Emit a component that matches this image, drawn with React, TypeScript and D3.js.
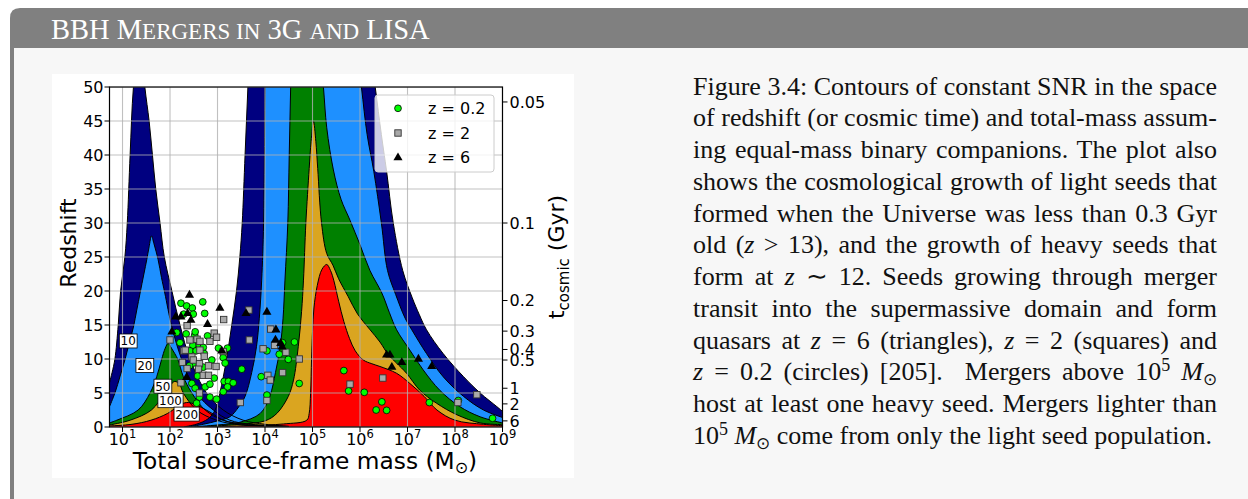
import React, { useEffect, useRef } from 'react';
import * as d3 from 'd3';

type P = [number, number]; // [log10 total mass, redshift]

// ---------- axes ----------
const redshiftTicks = [0, 5, 10, 15, 20, 25, 30, 35, 40, 45, 50];
const massDecades = [1, 2, 3, 4, 5, 6, 7, 8, 9];
const tCosmicLabels = ['0.05', '0.1', '0.2', '0.3', '0.4', '0.5', '1', '2', '6'];
const tCosmicRedshift = [47.8, 30.0, 18.6, 14.1, 11.4, 9.85, 5.7, 3.4, 0.9];

// ---------- SNR contour levels ----------
const snrLevels = ['10', '20', '50', '100', '200'];
const levelColors = ['#000080', '#1e90ff', '#008000', '#daa520', '#ff0000'];
const levelLabelLogM = [1.12, 1.47, 1.85, 2.01, 2.35];
const levelLabelZ = [12.65, 9.05, 6.0, 3.87, 1.9];

// 3G detector contours (upper boundary, left to right)
const g3Snr10: P[] = [[0.726, 6.5], [0.78, 8], [0.84, 10], [0.91, 15], [0.96, 20], [1.05, 25], [1.1, 30], [1.16, 40], [1.23, 50], [1.36, 58], [1.47, 50], [1.56, 45], [1.63, 40], [1.7, 35], [1.79, 30], [1.88, 25], [2.04, 20], [2.21, 15], [2.42, 10], [2.77, 5], [3.12, 2.5], [3.54, 1.0], [4.0, 0.4], [4.5, 0.1]];
const g3Snr20: P[] = [[0.726, 3.0], [0.84, 5], [0.95, 7.5], [1.05, 9.85], [1.14, 12.3], [1.23, 14.7], [1.3, 17.2], [1.37, 19.7], [1.45, 22.5], [1.51, 24.6], [1.56, 26.5], [1.61, 28.1], [1.66, 27], [1.75, 24.6], [1.82, 22], [1.89, 19.7], [2.04, 14.7], [2.25, 9.85], [2.56, 5], [2.91, 2.5], [3.26, 1.0], [3.7, 0.4], [4.5, 0.08]];
const g3Snr50: P[] = [[0.726, 0.6], [0.88, 1.0], [1.33, 2.5], [1.58, 5], [1.72, 7.4], [1.82, 9.85], [1.9, 11.6], [1.96, 12.3], [2.03, 11.6], [2.1, 10.8], [2.17, 9.85], [2.28, 7.4], [2.46, 5], [2.74, 2.5], [3.12, 1.0], [3.6, 0.4], [4.5, 0.06]];
const g3Snr100: P[] = [[0.726, 0.3], [1.16, 1.0], [1.61, 2.5], [1.89, 5], [2.0, 6.1], [2.1, 6.7], [2.2, 6.3], [2.28, 5], [2.56, 2.5], [2.98, 1.0], [3.5, 0.3], [4.5, 0.04]];
const g3Snr200: P[] = [[0.726, 0.15], [1.2, 0.4], [1.6, 1.0], [1.95, 2.0], [2.2, 3.2], [2.35, 3.6], [2.5, 3.4], [2.84, 2.2], [3.12, 1.0], [3.5, 0.4], [4.0, 0.15], [4.5, 0.03]];

// LISA contours (upper boundary, left to right)
const lisaSnr10: P[] = [[2.3, 0.03], [2.55, 0.4], [2.8, 1.2], [2.95, 2.5], [3.05, 5], [3.19, 10], [3.3, 15], [3.4, 20], [3.47, 25], [3.52, 30], [3.58, 40], [3.64, 50], [3.7, 60], [4.9, 66], [6.13, 60], [6.32, 50], [6.45, 43], [6.56, 37.6], [6.7, 30], [6.9, 23], [7.1, 19], [7.25, 16.5], [7.4, 14.3], [7.75, 10.8], [8.18, 7.4], [8.53, 5.0], [8.88, 3.0], [9.0, 2.3]];
const lisaSnr20: P[] = [[2.4, 0.02], [2.7, 0.4], [3.0, 0.9], [3.26, 1.5], [3.45, 3.0], [3.58, 4.5], [3.72, 8], [3.82, 11.8], [3.88, 16], [3.93, 21.6], [3.97, 30], [4.0, 50], [4.02, 60], [5.0, 64], [5.86, 60], [6.03, 50], [6.15, 43], [6.29, 37.6], [6.45, 30], [6.58, 23], [6.75, 19.5], [6.95, 16], [7.09, 14.3], [7.4, 10.8], [7.75, 7.4], [8.18, 4.5], [8.6, 2.5], [9.0, 1.4]];
const lisaSnr50: P[] = [[2.5, 0.02], [3.0, 0.3], [3.47, 0.7], [3.9, 2.0], [4.1, 4.5], [4.22, 8], [4.32, 11.8], [4.38, 16], [4.42, 21.6], [4.48, 30], [4.51, 40], [4.54, 50], [4.57, 60], [4.85, 63], [5.11, 60], [5.23, 50], [5.3, 44], [5.44, 37.8], [5.6, 33.5], [5.79, 30.4], [6.0, 26.8], [6.21, 23], [6.46, 19.7], [6.62, 16.8], [6.77, 14.3], [7.05, 11.3], [7.33, 8.4], [7.68, 5.4], [8.1, 3.0], [8.53, 1.5], [9.0, 0.6]];
const lisaSnr100: P[] = [[2.6, 0.02], [3.47, 0.4], [4.0, 0.9], [4.25, 2.0], [4.49, 4.5], [4.6, 6.9], [4.7, 11.8], [4.77, 17], [4.81, 21.6], [4.86, 30], [4.93, 38], [4.97, 42], [5.02, 45], [5.07, 42], [5.11, 38], [5.19, 30], [5.3, 25.5], [5.43, 23.8], [5.55, 21.8], [5.75, 19.2], [5.95, 16.6], [6.2, 14.4], [6.42, 12.5], [6.6, 10.6], [6.77, 9.4], [6.98, 7.9], [7.26, 5.4], [7.61, 3.5], [8.04, 1.8], [8.53, 0.6], [9.0, 0.35]];
const lisaSnr200: P[] = [[2.7, 0.02], [3.68, 0.2], [4.39, 0.45], [4.88, 1.0], [4.93, 2.0], [4.96, 5], [4.98, 10], [5.0, 14], [5.03, 17.5], [5.1, 20.8], [5.2, 23.2], [5.3, 23.9], [5.38, 23.0], [5.45, 21.5], [5.55, 18.5], [5.66, 15.5], [5.78, 13], [5.9, 11.2], [6.07, 9.85], [6.25, 9.3], [6.42, 8.9], [6.77, 7.9], [7.05, 6.4], [7.35, 4.5], [7.62, 2.5], [8.0, 1.0], [8.6, 0.4], [9.0, 0.2]];

const g3Contours = [g3Snr10, g3Snr20, g3Snr50, g3Snr100, g3Snr200];
const lisaContours = [lisaSnr10, lisaSnr20, lisaSnr50, lisaSnr100, lisaSnr200];

// ---------- seed growth tracks (final quasar redshift) ----------
const quasarZ02: P[] = [[2.23, 18.2], [2.35, 17.8], [2.47, 17.5], [2.69, 18.4], [2.29, 16.6], [2.49, 16.6], [2.73, 16.7], [2.14, 13.9], [2.34, 13.7], [2.52, 13.5], [2.53, 14.0], [2.79, 13.4], [2.21, 12.4], [2.48, 12.0], [2.62, 12.0], [2.7, 11.7], [3.02, 11.6], [3.21, 11.6], [2.42, 11.2], [2.55, 11.2], [2.72, 10.8], [2.88, 9.85], [3.12, 10.2], [3.16, 9.4], [2.49, 9.4], [2.41, 9.0], [2.6, 8.4], [2.7, 8.8], [2.58, 7.5], [2.93, 7.2], [2.46, 6.4], [2.74, 5.9], [2.84, 6.3], [3.14, 6.7], [3.23, 6.7], [3.33, 6.5], [3.51, 8.5], [3.21, 5.9], [3.12, 5.2], [2.62, 4.4], [2.84, 4.4], [2.98, 4.1], [2.56, 3.5], [2.53, 5.7], [3.92, 7.4], [4.04, 11.2], [4.3, 10.7], [4.37, 12.4], [4.49, 9.95], [4.62, 12.5], [4.72, 6.4], [4.04, 4.7], [5.66, 8.3], [5.76, 5.3], [6.09, 5.1], [6.46, 3.7], [6.34, 2.5], [6.56, 2.45], [7.46, 3.6], [8.07, 3.9], [8.79, 1.28]];
const quasarZ2: P[] = [[3.13, 15.8], [2.0, 12.8], [2.36, 14.9], [2.42, 12.8], [2.57, 12.9], [2.63, 12.6], [2.84, 12.6], [2.93, 13.8], [2.98, 13.2], [2.29, 11.2], [2.46, 10.3], [2.63, 11.3], [2.72, 10.4], [2.49, 9.85], [2.62, 9.3], [2.26, 9.5], [2.36, 8.6], [2.6, 8.5], [2.81, 9.0], [2.97, 8.9], [2.7, 7.6], [2.81, 7.6], [2.23, 6.5], [2.62, 5.0], [3.48, 3.6], [3.12, 11.1], [2.32, 11.3], [3.66, 17.2], [3.67, 12.8], [4.12, 14.4], [4.2, 12.0], [3.96, 11.5], [4.44, 11.0], [4.72, 10.0], [4.06, 7.6], [4.11, 6.9], [4.37, 8.0], [4.04, 3.9], [5.79, 6.3], [6.48, 7.2], [8.06, 3.6], [8.46, 4.75]];
const quasarZ6: P[] = [[2.41, 19.4], [3.05, 17.5], [2.12, 16.2], [2.23, 16.2], [2.37, 16.7], [2.44, 15.7], [2.79, 15.1], [2.04, 14.0], [2.35, 7.3], [3.09, 11.2], [3.6, 16.7], [4.04, 16.9], [4.23, 14.3], [4.22, 12.8], [4.33, 12.3], [4.36, 11.8], [6.56, 10.6], [6.63, 10.6], [6.67, 8.8], [6.88, 9.5], [7.23, 10.0], [7.51, 8.9]];

const legendLabels = ['z = 0.2', 'z = 2', 'z = 6'];

// ---------- header / caption ----------
// header in small caps: [text, isSmall]
const headerParts: [string, boolean][] = [
  ['BBH M', false], ['ERGERS IN', true], [' 3G ', false], ['AND', true], [' LISA', false],
];
const captionLines = [
  'Figure 3.4: Contours of constant SNR in the space',
  'of redshift (or cosmic time) and total-mass assum-',
  'ing equal-mass binary companions. The plot also',
  'shows the cosmological growth of light seeds that',
  'formed when the Universe was less than 0.3 Gyr',
  'old (*z* > 13), and the growth of heavy seeds that',
  'form at *z* ∼ 12. Seeds growing through merger',
  'transit into the supermassive domain and form',
  'quasars at *z* = 6 (triangles), *z* = 2 (squares) and',
  '*z* = 0.2 (circles) [205].  Mergers above 10^5^ *M*~⊙~',
  'host at least one heavy seed. Mergers lighter than',
  '10^5^ *M*~⊙~ come from only the light seed population.',
];

const CAP_X = 693;
const CAP_W = 524;
const CAP_Y0 = 94.5;
const CAP_DY = 31.75;

function renderRich(s: string) {
  const parts = s.split(/(\*[^*]+\*|\^[^^]+\^|~[^~]+~)/).filter((p) => p.length > 0);
  let shift = 0;
  return parts.map((p, i) => {
    let dy = 0;
    if (p.startsWith('^')) {
      dy = -9 - shift; shift = -9;
      return <tspan key={i} dy={dy} fontSize={18}>{p.slice(1, -1)}</tspan>;
    }
    if (p.startsWith('~')) {
      dy = 5 - shift; shift = 5;
      return <tspan key={i} dy={dy} fontSize={17}>{p.slice(1, -1)}</tspan>;
    }
    dy = -shift; shift = 0;
    if (p.startsWith('*')) {
      return <tspan key={i} dy={dy} fontStyle="italic">{p.slice(1, -1)}</tspan>;
    }
    return <tspan key={i} dy={dy}>{p}</tspan>;
  });
}

export default function App() {
  const capRefs = useRef<(SVGTextElement | null)[]>([]);

  useEffect(() => {
    capRefs.current.forEach((el, i) => {
      if (!el || i === captionLines.length - 1) return;
      el.style.wordSpacing = '0px';
      const len = el.getComputedTextLength();
      const spaces = (el.textContent || '').split(' ').length - 1;
      if (spaces > 0) el.style.wordSpacing = `${(CAP_W - len) / spaces}px`;
    });
  }, []);

  const x = d3.scaleLog().domain([10 ** 0.726, 1e9]).range([109.5, 502.5]);
  const y = d3.scaleLinear().domain([0, 50]).range([427, 87]);
  const X = (lm: number) => x(10 ** lm);

  const boundary = d3
    .line<P>()
    .x((d) => X(d[0]))
    .y((d) => y(d[1]))
    .curve(d3.curveCatmullRom.alpha(0.5));

  const fillPath = (pts: P[]) =>
    `${boundary(pts)}L${X(pts[pts.length - 1][0])},${y(0) + 2}L${X(pts[0][0])},${y(0) + 2}Z`;

  const [x0, x1] = x.range();
  const [yb, yt] = y.range();
  const tri = d3.symbol(d3.symbolTriangle, 36)() as string;
  const SQ = 6.4;
  const CR = 3.4;

  return (
    <svg width={1248} height={499} style={{ position: 'absolute', left: 0, top: 0, background: '#ffffff' }}>
      <defs>
        <clipPath id="plotClip">
          <rect x={x0} y={yt} width={x1 - x0} height={yb - yt} />
        </clipPath>
      </defs>

      {/* panel */}
      <rect x={10} y={48} width={1238} height={451} fill="#f7f7f7" />
      <rect x={10} y={48} width={4} height={451} fill="#808080" />
      <path d="M10,48 V18 Q10,8 20,8 H1248 V48 Z" fill="#808080" />
      <text x={51} y={38.5} fill="#ffffff" fontFamily="'Liberation Serif', serif" fontSize={28.5} style={{ whiteSpace: 'pre' }}>
        {headerParts.map(([t, small], i) => (
          <tspan key={i} fontSize={small ? 23 : 28.5}>{t}</tspan>
        ))}
      </text>

      {/* figure background */}
      <rect x={52} y={74} width={522} height={404} fill="#ffffff" />

      <g clipPath="url(#plotClip)">
        {g3Contours.map((pts, i) => (
          <path key={'g3f' + i} d={fillPath(pts)} fill={levelColors[i]} />
        ))}
        {lisaContours.map((pts, i) => (
          <path key={'lf' + i} d={fillPath(pts)} fill={levelColors[i]} />
        ))}
        {g3Contours.map((pts, i) => (
          <path key={'g3l' + i} d={boundary(pts) as string} fill="none" stroke="#000" strokeWidth={1} />
        ))}
        {lisaContours.map((pts, i) => (
          <path key={'ll' + i} d={boundary(pts) as string} fill="none" stroke="#000" strokeWidth={1} />
        ))}

        {/* grid */}
        {massDecades.map((d) => (
          <line key={'gx' + d} x1={X(d)} x2={X(d)} y1={yt} y2={yb} stroke="#b0b0b0" strokeOpacity={0.8} strokeWidth={1.1} />
        ))}
        {redshiftTicks.map((t) => (
          <line key={'gy' + t} x1={x0} x2={x1} y1={y(t)} y2={y(t)} stroke="#b0b0b0" strokeOpacity={0.8} strokeWidth={1.1} />
        ))}

        {/* contour labels */}
        {snrLevels.map((lab, i) => {
          const cx = X(levelLabelLogM[i]);
          const cy = y(levelLabelZ[i]);
          const w = lab.length * 7.4 + 3;
          return (
            <g key={'cl' + i}>
              <rect x={cx - w / 2} y={cy - 7} width={w} height={14} fill="#ffffff" stroke="#000" strokeWidth={0.8} />
              <text x={cx} y={cy + 4.5} textAnchor="middle" fontFamily="'DejaVu Sans', sans-serif" fontSize={12}>
                {lab}
              </text>
            </g>
          );
        })}

        {/* seeds */}
        {quasarZ02.map((d, i) => (
          <circle key={'c' + i} cx={X(d[0])} cy={y(d[1])} r={CR} fill="#00ff00" stroke="#000" strokeWidth={0.8} />
        ))}
        {quasarZ2.map((d, i) => (
          <rect key={'s' + i} x={X(d[0]) - SQ / 2} y={y(d[1]) - SQ / 2} width={SQ} height={SQ} fill="#a9a9a9" stroke="#333" strokeWidth={0.9} />
        ))}
        {quasarZ6.map((d, i) => (
          <path key={'t' + i} d={tri} transform={`translate(${X(d[0])},${y(d[1])})`} fill="#000" />
        ))}
      </g>

      {/* frame */}
      <rect x={x0} y={yt} width={x1 - x0} height={yb - yt} fill="none" stroke="#000" strokeWidth={1.2} />

      {/* left axis */}
      {redshiftTicks.map((t) => (
        <g key={'ly' + t}>
          <line x1={x0 - 5} x2={x0} y1={y(t)} y2={y(t)} stroke="#000" strokeWidth={1} />
          <text x={x0 - 6} y={y(t)} dy="0.36em" textAnchor="end" fontFamily="'DejaVu Sans', sans-serif" fontSize={16}>
            {t}
          </text>
        </g>
      ))}
      {/* bottom axis */}
      {massDecades.map((d) => (
        <g key={'bx' + d}>
          <line x1={X(d)} x2={X(d)} y1={yb} y2={yb + 5} stroke="#000" strokeWidth={1} />
          <text x={X(d)} y={yb + 18} textAnchor="middle" fontFamily="'DejaVu Sans', sans-serif" fontSize={16}>
            10<tspan dy={-7} fontSize={11.5}>{d}</tspan>
          </text>
        </g>
      ))}
      {/* right axis (cosmic time) */}
      {tCosmicLabels.map((lab, i) => (
        <g key={'ry' + i}>
          <line x1={x1} x2={x1 + 5} y1={y(tCosmicRedshift[i])} y2={y(tCosmicRedshift[i])} stroke="#000" strokeWidth={1} />
          <text x={x1 + 7} y={y(tCosmicRedshift[i])} dy="0.36em" fontFamily="'DejaVu Sans', sans-serif" fontSize={16}>
            {lab}
          </text>
        </g>
      ))}

      {/* axis labels */}
      <text x={(x0 + x1) / 2 - 1} y={469} textAnchor="middle" fontFamily="'DejaVu Sans', sans-serif" fontSize={23.3}>
        Total source-frame mass (M<tspan dy={4} fontSize={16}>⊙</tspan><tspan dy={-4}>)</tspan>
      </text>
      <text transform={`translate(76,243) rotate(-90)`} textAnchor="middle" fontFamily="'DejaVu Sans', sans-serif" fontSize={22}>
        Redshift
      </text>
      <text transform={`translate(564,${(yt + yb) / 2}) rotate(-90)`} textAnchor="middle" fontFamily="'DejaVu Sans', sans-serif" fontSize={22}>
        t<tspan dy={5} fontSize={15}>cosmic</tspan><tspan dy={-5}> (Gyr)</tspan>
      </text>

      {/* legend */}
      <g>
        <rect x={375} y={95} width={119} height={77} rx={3} fill="#ffffff" fillOpacity={0.8} stroke="#cccccc" />
        {legendLabels.map((lab, i) => {
          const ly = 108.3 + i * 24.7;
          return (
            <g key={'lg' + i}>
              {i === 0 && <circle cx={398} cy={ly} r={CR} fill="#00ff00" stroke="#000" strokeWidth={0.8} />}
              {i === 1 && <rect x={398 - SQ / 2} y={ly - SQ / 2} width={SQ} height={SQ} fill="#a9a9a9" stroke="#333" strokeWidth={0.9} />}
              {i === 2 && <path d={tri} transform={`translate(398,${ly})`} fill="#000" />}
              <text x={428} y={ly} dy="0.36em" fontFamily="'DejaVu Sans', sans-serif" fontSize={16}>
                {lab}
              </text>
            </g>
          );
        })}
      </g>

      {/* caption */}
      {captionLines.map((ln, i) => (
        <text
          key={'cap' + i}
          ref={(el) => {
            capRefs.current[i] = el;
          }}
          x={CAP_X}
          y={CAP_Y0 + i * CAP_DY}
          fontFamily="'Liberation Serif', 'Times New Roman', serif"
          fontSize={26}
          fill="#111"
          style={{ whiteSpace: 'pre' }}
        >
          {renderRich(ln)}
        </text>
      ))}
    </svg>
  );
}
